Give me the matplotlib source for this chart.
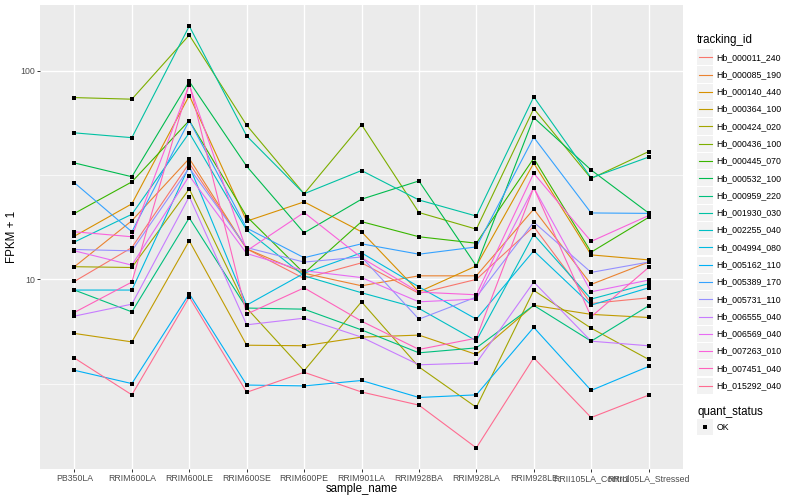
import numpy as np
import matplotlib
matplotlib.use("Agg")
import matplotlib.pyplot as plt
from matplotlib.patches import Rectangle
from matplotlib.ticker import FixedLocator, NullFormatter

plt.rcParams['font.family'] = ['Liberation Sans', 'DejaVu Sans']

samples = ["PB350LA", "RRIM600LA", "RRIM600LE", "RRIM600SE", "RRIM600PE",
           "RRIM901LA", "RRIM928BA", "RRIM928LA", "RRIM928LE",
           "RRII105LA_Control", "RRII105LA_Stressed"]

tracking_ids = ["Hb_000011_240", "Hb_000085_190", "Hb_000140_440", "Hb_000364_100",
                "Hb_000424_020", "Hb_000436_100", "Hb_000445_070", "Hb_000532_100",
                "Hb_000959_220", "Hb_001930_030", "Hb_002255_040", "Hb_004994_080",
                "Hb_005162_110", "Hb_005389_170", "Hb_005731_110", "Hb_006555_040",
                "Hb_006569_040", "Hb_007263_010", "Hb_007451_040", "Hb_015292_040"]

# FPKM + 1 per sample (order of `samples`)
hb_000011_240 = [9.78, 14.2, 36.0, 14.0, 10.1, 12.0, 8.57, 10.0, 17.9, 7.67, 8.16]
hb_000085_190 = [11.5, 19.1, 37.9, 14.0, 10.7, 9.32, 10.4, 10.4, 21.7, 9.46, 12.1]
hb_000140_440 = [16.1, 23.0, 75.9, 19.0, 23.5, 16.9, 8.72, 11.6, 36.0, 13.1, 12.4]
hb_000364_100 = [5.51, 5.02, 15.3, 4.84, 4.81, 5.29, 5.41, 4.37, 7.51, 6.80, 6.57]
hb_000424_020 = [11.5, 11.4, 27.1, 7.29, 3.65, 7.81, 3.81, 2.44, 8.86, 5.84, 4.14]
hb_000436_100 = [74.2, 72.9, 147.8, 54.7, 25.7, 55.1, 20.9, 17.4, 65.7, 30.4, 40.9]
hb_000445_070 = [20.7, 29.3, 57.6, 20.0, 10.7, 18.9, 16.0, 14.9, 38.0, 13.5, 19.8]
hb_000532_100 = [36.1, 31.0, 88.6, 34.8, 16.7, 24.2, 29.6, 11.6, 59.5, 33.4, 20.8]
hb_000959_220 = [8.89, 6.99, 19.7, 7.29, 7.20, 5.73, 4.45, 4.70, 7.51, 5.06, 7.47]
hb_001930_030 = [50.3, 47.7, 163.2, 48.6, 25.7, 33.2, 24.0, 20.1, 74.8, 30.6, 38.5]
hb_002255_040 = [15.1, 20.5, 50.3, 17.2, 10.4, 8.63, 7.26, 5.08, 16.4, 8.05, 9.53]
hb_004994_080 = [8.89, 8.89, 34.9, 7.53, 10.7, 13.4, 9.21, 6.45, 13.7, 7.53, 9.11]
hb_005162_110 = [3.67, 3.17, 8.53, 3.12, 3.09, 3.28, 2.72, 2.80, 5.89, 2.94, 3.83]
hb_005389_170 = [29.0, 16.9, 57.6, 17.6, 12.7, 14.8, 13.2, 14.3, 47.9, 20.8, 20.7]
hb_005731_110 = [13.9, 13.7, 34.2, 14.2, 12.1, 12.8, 6.45, 8.23, 18.8, 10.8, 12.1]
hb_006555_040 = [6.67, 7.61, 24.9, 6.06, 6.52, 5.29, 3.90, 3.98, 9.71, 5.06, 4.81]
hb_006569_040 = [13.7, 11.7, 31.3, 13.3, 11.0, 10.2, 7.81, 8.05, 27.5, 8.72, 9.92]
hb_007263_010 = [16.9, 16.0, 85.4, 13.7, 20.9, 12.7, 8.69, 8.44, 32.2, 15.2, 20.2]
hb_007451_040 = [6.95, 9.71, 86.8, 6.82, 9.11, 6.31, 4.62, 5.23, 27.5, 6.62, 11.4]
hb_015292_040 = [4.20, 2.80, 8.23, 2.88, 3.59, 2.89, 2.50, 1.56, 4.21, 2.18, 2.79]

series = [hb_000011_240, hb_000085_190, hb_000140_440, hb_000364_100, hb_000424_020,
          hb_000436_100, hb_000445_070, hb_000532_100, hb_000959_220, hb_001930_030,
          hb_002255_040, hb_004994_080, hb_005162_110, hb_005389_170, hb_005731_110,
          hb_006555_040, hb_006569_040, hb_007263_010, hb_007451_040, hb_015292_040]

colors = ["#F8766D", "#EA8331", "#D89000", "#C09B00", "#A3A500", "#7CAE00", "#39B600",
          "#00BB4E", "#00BF7D", "#00C1A3", "#00BFC4", "#00BAE0", "#00B0F6", "#35A2FF",
          "#9590FF", "#C77CFF", "#E76BF3", "#FA62DB", "#FF62BC", "#FF6C91"]

W, H = 800, 500
fig = plt.figure(figsize=(8, 5), dpi=100)
fig.patch.set_facecolor("white")
ax = fig.add_axes([40 / W, 1 - 469 / H, (683 - 40) / W, (469 - 5) / H])
ax.set_facecolor("#EBEBEB")

x = np.arange(len(samples))
for vals, col in zip(series, colors):
    ax.plot(x, vals, color=col, lw=0.8, zorder=3, solid_capstyle="butt")
for vals in series:
    ax.plot(x, vals, linestyle="none", marker="s", ms=2.8, color="black",
            markeredgewidth=0, zorder=4)

ax.set_yscale("log")
allv = np.log10(np.concatenate([np.asarray(s) for s in series]))
lo, hi = allv.min(), allv.max()
span = hi - lo
ax.set_ylim(10 ** (lo - 0.05 * span), 10 ** (hi + 0.05 * span))
ax.set_xlim(-0.6, len(samples) - 1 + 0.6)

ax.yaxis.set_major_locator(FixedLocator([10, 100]))
ax.set_yticklabels(["10", "100"])
ax.yaxis.set_minor_locator(FixedLocator([10 ** 0.5, 10 ** 1.5, 10 ** 2.5]))
ax.yaxis.set_minor_formatter(NullFormatter())
ax.set_xticks(x)
ax.set_xticklabels(samples)

ax.grid(True, which="major", color="white", lw=1.0, zorder=1)
ax.grid(True, which="minor", axis="y", color="white", lw=0.5, zorder=1)
ax.set_axisbelow(True)
for s in ax.spines.values():
    s.set_visible(False)
ax.tick_params(axis="both", which="major", length=2.2, width=0.7, color="#333333",
               labelsize=6.3, labelcolor="#4D4D4D", pad=1.2)
ax.tick_params(axis="y", which="minor", length=0)

ax.set_xlabel("sample_name", fontsize=8.3, color="black", labelpad=0.5)
ax.set_ylabel("FPKM + 1", fontsize=8.3, color="black", labelpad=1.5)

# legend drawn in pixel coordinates
lax = fig.add_axes([690 / W, 0, 110 / W, 1])
lax.set_xlim(690, 800)
lax.set_ylim(H, 0)
lax.axis("off")
lax.text(697, 40, "tracking_id", fontsize=8.3, va="center", ha="left")
step = 17.28
for i, (name, col) in enumerate(zip(tracking_ids, colors)):
    yc = 57.3 + i * step
    lax.add_patch(Rectangle((697, yc - 8.1), 16.4, 16.2, facecolor="#F2F2F2",
                            edgecolor="none"))
    lax.plot([698.5, 711.5], [yc, yc], color=col, lw=0.8)
    lax.text(716.5, yc, name, fontsize=6.3, va="center", ha="left")
lax.text(697, 411.7, "quant_status", fontsize=8.3, va="center", ha="left")
lax.add_patch(Rectangle((697, 427.3 - 8.1), 16.4, 16.2, facecolor="#F2F2F2",
                        edgecolor="none"))
lax.plot([705.2], [427.3], marker="s", ms=2.8, color="black", markeredgewidth=0)
lax.text(716.5, 427.3, "OK", fontsize=6.3, va="center", ha="left")

fig.savefig("out.png", dpi=100)
